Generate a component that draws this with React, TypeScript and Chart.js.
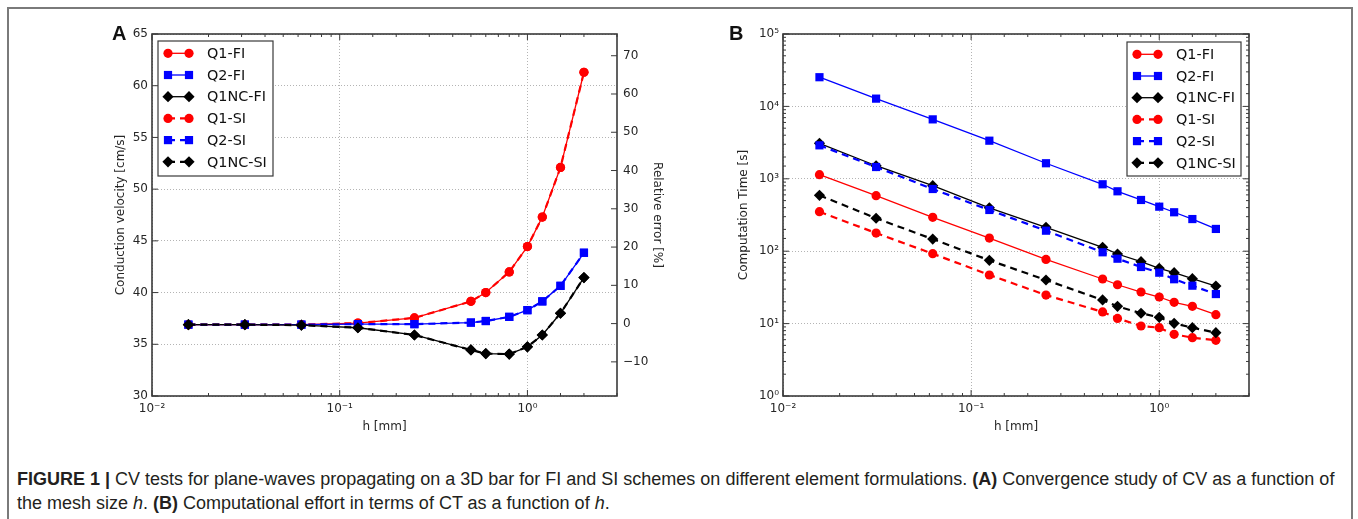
import React, { useEffect, useRef } from 'react';
import { Chart, registerables } from 'chart.js';

Chart.register(...registerables);

// ---------------- DATA ----------------
const H_MM = [1 / 64, 1 / 32, 1 / 16, 1 / 8, 0.25, 0.5, 0.6, 0.8, 1.0, 1.2, 1.5, 2.0];
const SERIES_LABELS = ['Q1-FI', 'Q2-FI', 'Q1NC-FI', 'Q1-SI', 'Q2-SI', 'Q1NC-SI'];

// Panel A: conduction velocity [cm/s]
const CV_Q1_FI = [36.9, 36.9, 36.9, 37.05, 37.55, 39.15, 40.0, 42.0, 44.45, 47.3, 52.1, 61.3];
const CV_Q2_FI = [36.9, 36.9, 36.9, 36.95, 36.95, 37.1, 37.25, 37.65, 38.3, 39.15, 40.65, 43.85];
const CV_Q1NC_FI = [36.9, 36.9, 36.85, 36.6, 35.9, 34.45, 34.1, 34.05, 34.75, 35.9, 38.0, 41.45];
const CV_Q1_SI = [36.9, 36.9, 36.9, 37.05, 37.55, 39.15, 40.0, 42.0, 44.45, 47.3, 52.1, 61.3];
const CV_Q2_SI = [36.9, 36.9, 36.9, 36.95, 36.95, 37.1, 37.25, 37.65, 38.3, 39.15, 40.65, 43.85];
const CV_Q1NC_SI = [36.9, 36.9, 36.85, 36.6, 35.9, 34.45, 34.1, 34.05, 34.75, 35.9, 38.0, 41.45];
const CV_REFERENCE = 37.0; // 0 % relative error
const CV_MIN = 30;
const CV_MAX = 65;
const CV_STEP = 5;
const ERR_STEP = 10;

// Panel B: computation time [s]
const CT_Q1_FI = [1140, 584, 294, 152, 77, 41.3, 34.4, 27.3, 23.3, 19.7, 17.3, 13.3];
const CT_Q2_FI = [25300, 12800, 6620, 3360, 1640, 840, 672, 510, 412, 345, 278, 203];
const CT_Q1NC_FI = [3090, 1515, 804, 398, 214, 113, 91.5, 71.6, 58, 50.5, 41.7, 33];
const CT_Q1_SI = [351, 178, 92.4, 46.9, 24.8, 14.5, 11.8, 9.27, 8.78, 7.1, 6.4, 5.88];
const CT_Q2_SI = [2900, 1455, 723, 371, 192, 96.6, 78.8, 60.5, 50.5, 41, 33.4, 25.6];
const CT_Q1NC_SI = [592, 285, 147, 74.9, 40, 21.2, 17.3, 13.9, 12.2, 10.1, 8.78, 7.5];
const CT_MIN = 1;
const CT_MAX = 1e5;

const H_MIN = 0.01;
const H_MAX = 3;

const CV_SERIES = [CV_Q1_FI, CV_Q2_FI, CV_Q1NC_FI, CV_Q1_SI, CV_Q2_SI, CV_Q1NC_SI];
const CT_SERIES = [CT_Q1_FI, CT_Q2_FI, CT_Q1NC_FI, CT_Q1_SI, CT_Q2_SI, CT_Q1NC_SI];

// ---------------- STYLE ----------------
const STYLES = [
  { color: '#ff0000', pointStyle: 'circle', radius: 4.6, dash: [] as number[], width: 1.3 },
  { color: '#0000ff', pointStyle: 'rect', radius: 5.8, dash: [] as number[], width: 1.3 },
  { color: '#000000', pointStyle: 'rectRot', radius: 5.6, dash: [] as number[], width: 1.3 },
  { color: '#ff0000', pointStyle: 'circle', radius: 4.6, dash: [7, 5], width: 2.2 },
  { color: '#0000ff', pointStyle: 'rect', radius: 5.8, dash: [7, 5], width: 2.2 },
  { color: '#000000', pointStyle: 'rectRot', radius: 5.6, dash: [7, 5], width: 2.2 },
];

const FONT_FAMILY = '"DejaVu Sans", sans-serif';
const TICK_FONT = { family: FONT_FAMILY, size: 12 };
const TEXT_COLOR = '#262626';
const GRID_COLOR = '#b4b4b4';
const FRAME_COLOR = '#3a3a3a';

const SUP: Record<string, string> = {
  '-': '⁻', '0': '⁰', '1': '¹', '2': '²', '3': '³', '4': '⁴', '5': '⁵', '6': '⁶', '7': '⁷', '8': '⁸', '9': '⁹',
};
const sup = (n: number) => String(n).split('').map((c) => SUP[c] || c).join('');
const isPow10 = (v: number) => {
  if (!(v > 0)) return false;
  const l = Math.log10(v);
  return Math.abs(l - Math.round(l)) < 1e-6;
};
const powLabel = (v: number) => (isPow10(v) ? '10' + sup(Math.round(Math.log10(v))) : '');
const isMultiple = (v: number, s: number) => Math.abs(v / s - Math.round(v / s)) < 1e-6;
const fmtNum = (v: number) => (v < 0 ? '\u2212' + String(Math.abs(Math.round(v))) : String(Math.round(v)));

function makeDatasets(series: number[][]) {
  return series.map((vals, i) => {
    const s = STYLES[i];
    return {
      label: SERIES_LABELS[i],
      data: H_MM.map((h, k) => ({ x: h, y: vals[k] })),
      borderColor: s.color,
      backgroundColor: s.color,
      borderWidth: s.width,
      borderDash: s.dash,
      pointStyle: s.pointStyle,
      pointRadius: s.radius,
      pointBorderWidth: 0,
      pointBackgroundColor: s.color,
      tension: 0,
      order: SERIES_LABELS.length - 1 - i,
      yAxisID: 'y',
    };
  });
}

// ---------------- PLUGIN: matplotlib-like frame, inward ticks, legend ----------------
function drawMarker(ctx: CanvasRenderingContext2D, style: string, x: number, y: number, r: number, color: string) {
  ctx.fillStyle = color;
  ctx.beginPath();
  if (style === 'circle') {
    ctx.arc(x, y, r, 0, Math.PI * 2);
  } else if (style === 'rect') {
    const s = Math.SQRT1_2 * r;
    ctx.rect(x - s, y - s, 2 * s, 2 * s);
  } else {
    ctx.moveTo(x - r, y);
    ctx.lineTo(x, y - r);
    ctx.lineTo(x + r, y);
    ctx.lineTo(x, y + r);
    ctx.closePath();
  }
  ctx.fill();
}

const mplPlugin = {
  id: 'mpl',
  afterDraw(chart: any, _args: any, opts: any) {
    const { ctx, chartArea: a } = chart;
    ctx.save();
    ctx.setLineDash([]);
    // inward ticks
    ctx.strokeStyle = FRAME_COLOR;
    ctx.lineWidth = 1;
    const tickSet = (scale: any, sides: string[], majorFn: (v: number) => boolean) => {
      if (!scale) return;
      for (const t of scale.ticks) {
        const v = t.value;
        const p = scale.getPixelForValue(v);
        const major = majorFn(v);
        const len = major ? 6 : 3;
        for (const side of sides) {
          ctx.beginPath();
          if (side === 'bottom') { ctx.moveTo(p, a.bottom); ctx.lineTo(p, a.bottom - len); }
          if (side === 'top') { ctx.moveTo(p, a.top); ctx.lineTo(p, a.top + len); }
          if (side === 'left') { ctx.moveTo(a.left, p); ctx.lineTo(a.left + len, p); }
          if (side === 'right') { ctx.moveTo(a.right, p); ctx.lineTo(a.right - len, p); }
          ctx.stroke();
        }
      }
    };
    const xs = chart.scales.x;
    tickSet(xs, ['bottom', 'top'], isPow10);
    const ys = chart.scales.y;
    const yMajor = ys.type === 'logarithmic' ? isPow10 : (v: number) => isMultiple(v, opts.yStep || 1);
    tickSet(ys, opts.hasRight ? ['left'] : ['left', 'right'], yMajor);
    if (opts.hasRight && chart.scales.y2) {
      const y2 = chart.scales.y2;
      const ticks = y2.ticks.filter((t: any) => isMultiple(t.value, ERR_STEP));
      for (const t of ticks) {
        const p = y2.getPixelForValue(t.value);
        ctx.beginPath();
        ctx.moveTo(a.right, p);
        ctx.lineTo(a.right - 6, p);
        ctx.stroke();
      }
    }
    // frame
    ctx.strokeStyle = FRAME_COLOR;
    ctx.lineWidth = 1.6;
    ctx.strokeRect(a.left, a.top, a.right - a.left, a.bottom - a.top);

    // legend
    const lg = opts.legend;
    if (lg) {
      ctx.fillStyle = '#ffffff';
      ctx.fillRect(lg.left, lg.top, lg.width, lg.height);
      ctx.strokeStyle = FRAME_COLOR;
      ctx.lineWidth = 1.2;
      ctx.strokeRect(lg.left, lg.top, lg.width, lg.height);
      chart.data.datasets.forEach((ds: any, i: number) => {
        const y = lg.top + 12.3 + i * 21.7;
        const x1 = lg.left + 10;
        const x2 = lg.left + 31;
        ctx.save();
        ctx.setLineDash(ds.borderDash || []);
        ctx.strokeStyle = ds.borderColor;
        ctx.lineWidth = ds.borderWidth;
        ctx.beginPath();
        ctx.moveTo(x1, y);
        ctx.lineTo(x2, y);
        ctx.stroke();
        ctx.restore();
        drawMarker(ctx, ds.pointStyle, x1, y, ds.pointRadius, ds.borderColor);
        drawMarker(ctx, ds.pointStyle, x2, y, ds.pointRadius, ds.borderColor);
        ctx.fillStyle = '#111';
        ctx.font = `14.4px ${FONT_FAMILY}`;
        ctx.textAlign = 'left';
        ctx.textBaseline = 'middle';
        ctx.fillText(ds.label, lg.left + 49, y + 1);
      });
    }
    ctx.restore();
  },
};

function xScale() {
  return {
    type: 'logarithmic',
    min: H_MIN,
    max: H_MAX,
    afterFit: (s: any) => { s.height = 44; },
    grid: {
      color: (c: any) => (c.tick && isPow10(c.tick.value) ? GRID_COLOR : 'rgba(0,0,0,0)'),
      drawTicks: false,
      lineWidth: 1,
    },
    border: { display: false, dash: [1, 2] },
    ticks: {
      autoSkip: false,
      maxRotation: 0,
      padding: 6,
      font: TICK_FONT,
      color: TEXT_COLOR,
      callback: (v: any) => powLabel(Number(v)),
    },
    title: {
      display: true,
      text: 'h [mm]',
      font: TICK_FONT,
      color: TEXT_COLOR,
      padding: { top: 0, bottom: 6 },
    },
  };
}

function configA() {
  const errMin = ((CV_MIN - CV_REFERENCE) / CV_REFERENCE) * 100;
  const errMax = ((CV_MAX - CV_REFERENCE) / CV_REFERENCE) * 100;
  return {
    type: 'line',
    data: { datasets: makeDatasets(CV_SERIES) },
    plugins: [mplPlugin],
    options: {
      responsive: false,
      animation: false,
      devicePixelRatio: 1,
      layout: { padding: { top: 14, left: 0, right: 0, bottom: 0 } },
      plugins: {
        legend: { display: false },
        tooltip: { enabled: false },
        mpl: { hasRight: true, yStep: CV_STEP, legend: { left: 58, top: 21, width: 115, height: 135 } },
      },
      scales: {
        x: xScale(),
        y: {
          type: 'linear',
          position: 'left',
          min: CV_MIN,
          max: CV_MAX,
          afterFit: (s: any) => { s.width = 52; },
          grid: { color: GRID_COLOR, drawTicks: false, lineWidth: 1 },
          border: { display: false, dash: [1, 2] },
          ticks: { stepSize: CV_STEP, padding: 4, font: TICK_FONT, color: TEXT_COLOR, callback: (v: any) => fmtNum(Number(v)) },
          title: { display: true, text: 'Conduction velocity [cm/s]', font: TICK_FONT, color: TEXT_COLOR, padding: { top: 14, bottom: 0 } },
        },
        y2: {
          type: 'linear',
          position: 'right',
          min: errMin,
          max: errMax,
          afterFit: (s: any) => { s.width = 83; },
          grid: { display: false, drawOnChartArea: false, drawTicks: false },
          border: { display: false },
          ticks: {
            stepSize: ERR_STEP,
            padding: 6,
            autoSkip: false,
            font: TICK_FONT,
            color: TEXT_COLOR,
            callback: (v: any) => (isMultiple(Number(v), ERR_STEP) ? fmtNum(Number(v)) : ''),
          },
          title: { display: true, text: 'Relative error [%]', font: TICK_FONT, color: TEXT_COLOR, padding: { top: 36, bottom: 0 } },
        },
      },
    },
  };
}

function configB() {
  return {
    type: 'line',
    data: { datasets: makeDatasets(CT_SERIES) },
    plugins: [mplPlugin],
    options: {
      responsive: false,
      animation: false,
      devicePixelRatio: 1,
      layout: { padding: { top: 14, left: 0, right: 71, bottom: 0 } },
      plugins: {
        legend: { display: false },
        tooltip: { enabled: false },
        mpl: { hasRight: false, legend: { left: 407, top: 22, width: 114, height: 134 } },
      },
      scales: {
        x: xScale(),
        y: {
          type: 'logarithmic',
          position: 'left',
          min: CT_MIN,
          max: CT_MAX,
          afterFit: (s: any) => { s.width = 63; },
          grid: {
            color: (c: any) => (c.tick && isPow10(c.tick.value) ? GRID_COLOR : 'rgba(0,0,0,0)'),
            drawTicks: false,
            lineWidth: 1,
          },
          border: { display: false, dash: [1, 2] },
          ticks: { autoSkip: false, padding: 4, font: TICK_FONT, color: TEXT_COLOR, callback: (v: any) => powLabel(Number(v)) },
          title: { display: true, text: 'Computation Time [s]', font: TICK_FONT, color: TEXT_COLOR, padding: { top: 17, bottom: 0 } },
        },
      },
    },
  };
}

function ChartCanvas({ makeConfig, left, top }: { makeConfig: () => any; left: number; top: number }) {
  const ref = useRef<HTMLCanvasElement | null>(null);
  useEffect(() => {
    if (!ref.current) return;
    const chart = new Chart(ref.current, makeConfig());
    return () => chart.destroy();
  }, []);
  return (
    <canvas
      ref={ref}
      width={600}
      height={420}
      style={{ position: 'absolute', left, top, width: 600, height: 420 }}
    />
  );
}

export default function App() {
  const captionStyle: React.CSSProperties = {
    position: 'absolute',
    left: 17,
    whiteSpace: 'nowrap',
    fontFamily: '"Liberation Sans", Arial, sans-serif',
    fontSize: 18,
    lineHeight: '22px',
    color: '#231f20',
  };
  return (
    <div style={{ position: 'absolute', left: 0, top: 0, width: 1358, height: 519, overflow: 'hidden', background: '#fff' }}>
      <div
        style={{
          position: 'absolute',
          left: 7,
          top: 7,
          width: 1346,
          height: 540,
          border: '2px solid #7a7a7a',
          boxSizing: 'border-box',
        }}
      />
      <ChartCanvas makeConfig={configA} left={100} top={20} />
      <ChartCanvas makeConfig={configB} left={720} top={20} />
      <div style={{ position: 'absolute', left: 112, top: 22, fontFamily: '"Liberation Sans", Arial, sans-serif', fontWeight: 700, fontSize: 20, color: '#111' }}>A</div>
      <div style={{ position: 'absolute', left: 729, top: 22, fontFamily: '"Liberation Sans", Arial, sans-serif', fontWeight: 700, fontSize: 20, color: '#111' }}>B</div>
      <div style={{ ...captionStyle, top: 468 }}>
        <b>FIGURE 1 |</b> CV tests for plane-waves propagating on a 3D bar for FI and SI schemes on different element formulations. <b>(A)</b> Convergence study of CV as a function of
      </div>
      <div style={{ ...captionStyle, top: 492 }}>
        the mesh size <i>h</i>. <b>(B)</b> Computational effort in terms of CT as a function of <i>h</i>.
      </div>
    </div>
  );
}
